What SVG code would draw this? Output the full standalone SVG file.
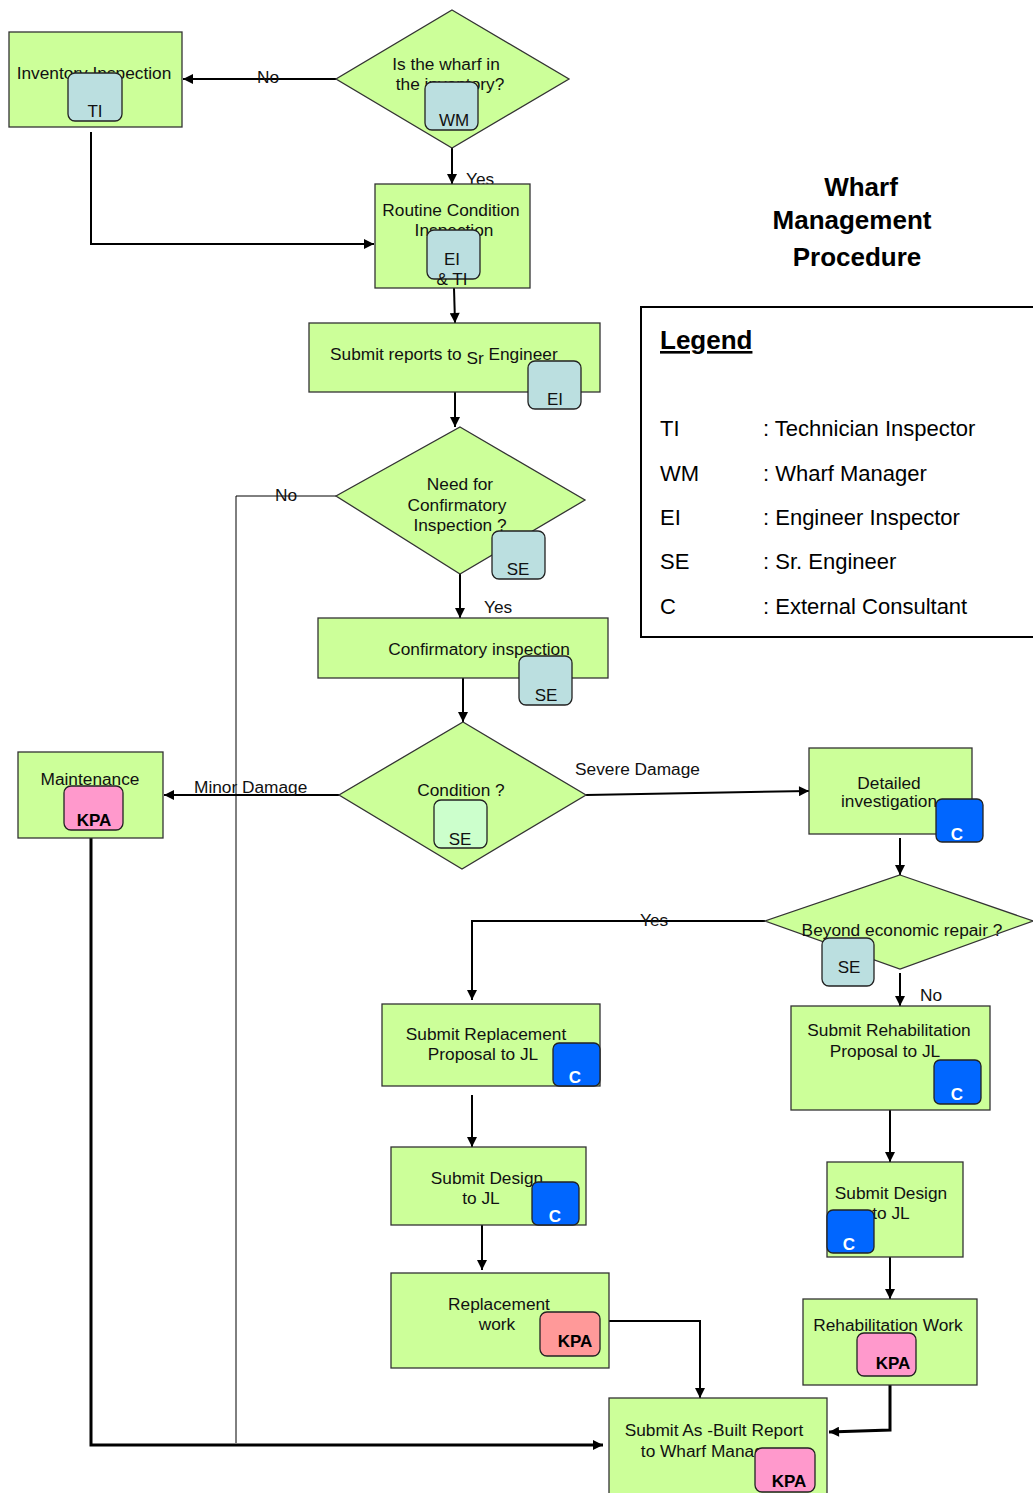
<svg xmlns="http://www.w3.org/2000/svg" width="1033" height="1493" viewBox="0 0 1033 1493">
<defs>
<marker id="arr" viewBox="0 0 10 10" refX="10" refY="5" markerWidth="11" markerHeight="10" markerUnits="userSpaceOnUse" orient="auto">
<path d="M0,0 L10,5 L0,10 z" fill="#000"/>
</marker>
<style>
.box{fill:#ccff99;stroke:#333;stroke-width:1.3}
.t{font-family:"Liberation Sans",Arial,sans-serif;font-size:17.3px;fill:#111;text-anchor:middle}
.bd{stroke:#222;stroke-width:1.3}
.b-blue{fill:#bbdfe0}
.b-lg{fill:#ccffcc}
.b-c{fill:#0066ff}
.b-pink{fill:#ff99cc}
.b-sal{fill:#ff9999}
.bt{font-family:"Liberation Sans",Arial,sans-serif;font-size:17px;fill:#111;text-anchor:middle}
.btw{font-family:"Liberation Sans",Arial,sans-serif;font-size:17px;font-weight:bold;fill:#fff;text-anchor:middle}
.btb{font-family:"Liberation Sans",Arial,sans-serif;font-size:17px;font-weight:bold;fill:#000;text-anchor:middle}
.c{fill:none;stroke:#000;stroke-width:2}
.ck{fill:none;stroke:#000;stroke-width:3}
.cthin{fill:none;stroke:#000;stroke-width:1}
.lbl{font-family:"Liberation Sans",Arial,sans-serif;font-size:17.3px;fill:#111}
.lg{font-family:"Liberation Sans",Arial,sans-serif;font-size:22px;fill:#000}
.lgh{font-family:"Liberation Sans",Arial,sans-serif;font-size:26px;font-weight:bold;fill:#000;text-decoration:underline}
.title{font-family:"Liberation Sans",Arial,sans-serif;font-size:26px;font-weight:bold;fill:#000;text-anchor:middle}
</style>
</defs>
<rect width="1033" height="1493" fill="#fff"/>

<g id="connectors">
<path class="c" d="M336,79 H183" marker-end="url(#arr)"/>
<path class="c" d="M452,148 V184" marker-end="url(#arr)"/>
<path class="c" d="M91,132 V244 H374" marker-end="url(#arr)"/>
<path class="c" d="M454,288 L455,323" marker-end="url(#arr)"/>
<path class="c" d="M455,392 V427" marker-end="url(#arr)"/>
<path class="cthin" d="M336,496 H236 V1443"/>
<path class="c" d="M460,574 V618" marker-end="url(#arr)"/>
<path class="c" d="M463,678 V722" marker-end="url(#arr)"/>
<path class="c" d="M339,795 H164" marker-end="url(#arr)"/>
<path class="ck" d="M91,838 V1445 H603" marker-end="url(#arr)"/>
<path class="c" d="M586,795 L809,791" marker-end="url(#arr)"/>
<path class="c" d="M900,838 V875" marker-end="url(#arr)"/>
<path class="c" d="M765,921 H472 V1000" marker-end="url(#arr)"/>
<path class="c" d="M900,973 V1006" marker-end="url(#arr)"/>
<path class="c" d="M472,1095 V1147" marker-end="url(#arr)"/>
<path class="c" d="M482,1225 V1270" marker-end="url(#arr)"/>
<path class="c" d="M609,1321 H700 V1398" marker-end="url(#arr)"/>
<path class="c" d="M890,1110 V1162" marker-end="url(#arr)"/>
<path class="c" d="M890,1257 V1299" marker-end="url(#arr)"/>
<path class="ck" d="M890,1385 V1430 L829,1432" marker-end="url(#arr)"/>
<text class="lbl" x="257" y="83">No</text>
<text class="lbl" x="466" y="185">Yes</text>
<text class="lbl" x="275" y="501">No</text>
<text class="lbl" x="484" y="613">Yes</text>
<text class="lbl" x="194" y="793">Minor Damage</text>
<text class="lbl" x="575" y="775">Severe Damage</text>
<text class="lbl" x="640" y="926">Yes</text>
<text class="lbl" x="920" y="1001">No</text>
</g>

<g id="inventory-inspection">
<rect class="box" x="9" y="32" width="173" height="95"/>
<text class="t" x="94" y="79">Inventory Inspection</text>
<rect class="bd b-blue" x="68" y="73" width="54" height="48" rx="7"/>
<text class="bt" x="95" y="117">TI</text>
</g>

<g id="wharf-in-inventory">
<polygon class="box" points="452,10 569,79 452,148 336,79"/>
<text class="t" x="446" y="70">Is the wharf in</text>
<text class="t" x="450" y="90">the inventory?</text>
<rect class="bd b-blue" x="425" y="82" width="53" height="48" rx="7"/>
<text class="bt" x="454" y="126">WM</text>
</g>

<g id="routine-condition">
<rect class="box" x="375" y="184" width="155" height="104"/>
<text class="t" x="451" y="216">Routine Condition</text>
<text class="t" x="454" y="236">Inspection</text>
<rect class="bd b-blue" x="427" y="230" width="53" height="49" rx="7"/>
<text class="bt" x="452" y="265">EI</text>
<text class="bt" x="452" y="285">&amp; TI</text>
</g>

<g id="submit-reports">
<rect class="box" x="309" y="323" width="291" height="69"/>
<text class="lbl" x="330" y="360">Submit reports to <tspan dy="4">Sr</tspan><tspan dy="-4"> Engineer</tspan></text>
<rect class="bd b-blue" x="528" y="361" width="53" height="48" rx="7"/>
<text class="bt" x="555" y="405">EI</text>
</g>

<g id="need-confirmatory">
<polygon class="box" points="460,427 585,500 460,574 336,496"/>
<text class="t" x="460" y="490">Need for</text>
<text class="t" x="457" y="511">Confirmatory</text>
<text class="t" x="460" y="531">Inspection ?</text>
<rect class="bd b-blue" x="492" y="531" width="53" height="48" rx="7"/>
<text class="bt" x="518" y="575">SE</text>
</g>

<g id="confirmatory-inspection">
<rect class="box" x="318" y="618" width="290" height="60"/>
<text class="t" x="479" y="655">Confirmatory inspection</text>
<rect class="bd b-blue" x="519" y="656" width="53" height="49" rx="7"/>
<text class="bt" x="546" y="701">SE</text>
</g>

<g id="condition">
<polygon class="box" points="463,722 586,795 462,869 339,795"/>
<text class="t" x="461" y="796">Condition ?</text>
<rect class="bd b-lg" x="434" y="800" width="53" height="48" rx="7"/>
<text class="bt" x="460" y="845">SE</text>
</g>

<g id="maintenance">
<rect class="box" x="18" y="752" width="145" height="86"/>
<text class="t" x="90" y="785">Maintenance</text>
<rect class="bd b-pink" x="64" y="786" width="59" height="44" rx="7"/>
<text class="btb" x="94" y="826">KPA</text>
</g>

<g id="detailed-investigation">
<rect class="box" x="809" y="748" width="163" height="86"/>
<text class="t" x="889" y="789">Detailed</text>
<text class="t" x="889" y="807">investigation</text>
<rect class="bd b-c" x="936" y="799" width="47" height="43" rx="6"/>
<text class="btw" x="957" y="840">C</text>
</g>

<g id="beyond-economic-repair">
<polygon class="box" points="900,875 1033,921 900,969 765,921"/>
<text class="t" x="902" y="936">Beyond economic repair ?</text>
<rect class="bd b-blue" x="822" y="938" width="52" height="48" rx="7"/>
<text class="bt" x="849" y="973">SE</text>
</g>

<g id="submit-replacement">
<rect class="box" x="382" y="1004" width="218" height="82"/>
<text class="t" x="486" y="1040">Submit Replacement</text>
<text class="t" x="483" y="1060">Proposal to JL</text>
<rect class="bd b-c" x="553" y="1043" width="47" height="43" rx="6"/>
<text class="btw" x="575" y="1083">C</text>
</g>

<g id="submit-design-left">
<rect class="box" x="391" y="1147" width="195" height="78"/>
<text class="t" x="487" y="1184">Submit Design</text>
<text class="t" x="481" y="1204">to JL</text>
<rect class="bd b-c" x="532" y="1182" width="47" height="43" rx="6"/>
<text class="btw" x="555" y="1222">C</text>
</g>

<g id="replacement-work">
<rect class="box" x="391" y="1273" width="218" height="95"/>
<text class="t" x="499" y="1310">Replacement</text>
<text class="t" x="497" y="1330">work</text>
<rect class="bd b-sal" x="540" y="1312" width="60" height="44" rx="7"/>
<text class="btb" x="575" y="1347">KPA</text>
</g>

<g id="submit-rehabilitation">
<rect class="box" x="791" y="1006" width="199" height="104"/>
<text class="t" x="889" y="1036">Submit Rehabilitation</text>
<text class="t" x="885" y="1057">Proposal to JL</text>
<rect class="bd b-c" x="934" y="1060" width="47" height="44" rx="6"/>
<text class="btw" x="957" y="1100">C</text>
</g>

<g id="submit-design-right">
<rect class="box" x="827" y="1162" width="136" height="95"/>
<text class="t" x="891" y="1199">Submit Design</text>
<text class="t" x="891" y="1219">to JL</text>
<rect class="bd b-c" x="827" y="1210" width="47" height="43" rx="6"/>
<text class="btw" x="849" y="1250">C</text>
</g>

<g id="rehabilitation-work">
<rect class="box" x="803" y="1299" width="174" height="86"/>
<text class="t" x="888" y="1331">Rehabilitation Work</text>
<rect class="bd b-pink" x="857" y="1333" width="59" height="43" rx="7"/>
<text class="btb" x="893" y="1369">KPA</text>
</g>

<g id="submit-as-built">
<rect class="box" x="609" y="1398" width="218" height="100"/>
<text class="t" x="714" y="1436">Submit As -Built Report</text>
<text class="t" x="710" y="1457">to Wharf Manager</text>
<rect class="bd b-pink" x="755" y="1448" width="60" height="44" rx="7"/>
<text class="btb" x="789" y="1487">KPA</text>
</g>

<g id="title">
<text class="title" x="861" y="196">Wharf</text>
<text class="title" x="852" y="229">Management</text>
<text class="title" x="857" y="266">Procedure</text>
</g>

<g id="legend">
<rect x="641" y="307" width="400" height="330" fill="#fff" stroke="#000" stroke-width="2"/>
<text class="lgh" x="660" y="349">Legend</text>
<text class="lg" x="660" y="436">TI</text><text class="lg" x="763" y="436">: Technician Inspector</text>
<text class="lg" x="660" y="481">WM</text><text class="lg" x="763" y="481">: Wharf Manager</text>
<text class="lg" x="660" y="525">EI</text><text class="lg" x="763" y="525">: Engineer Inspector</text>
<text class="lg" x="660" y="569">SE</text><text class="lg" x="763" y="569">: Sr. Engineer</text>
<text class="lg" x="660" y="614">C</text><text class="lg" x="763" y="614">: External Consultant</text>
</g>
</svg>
